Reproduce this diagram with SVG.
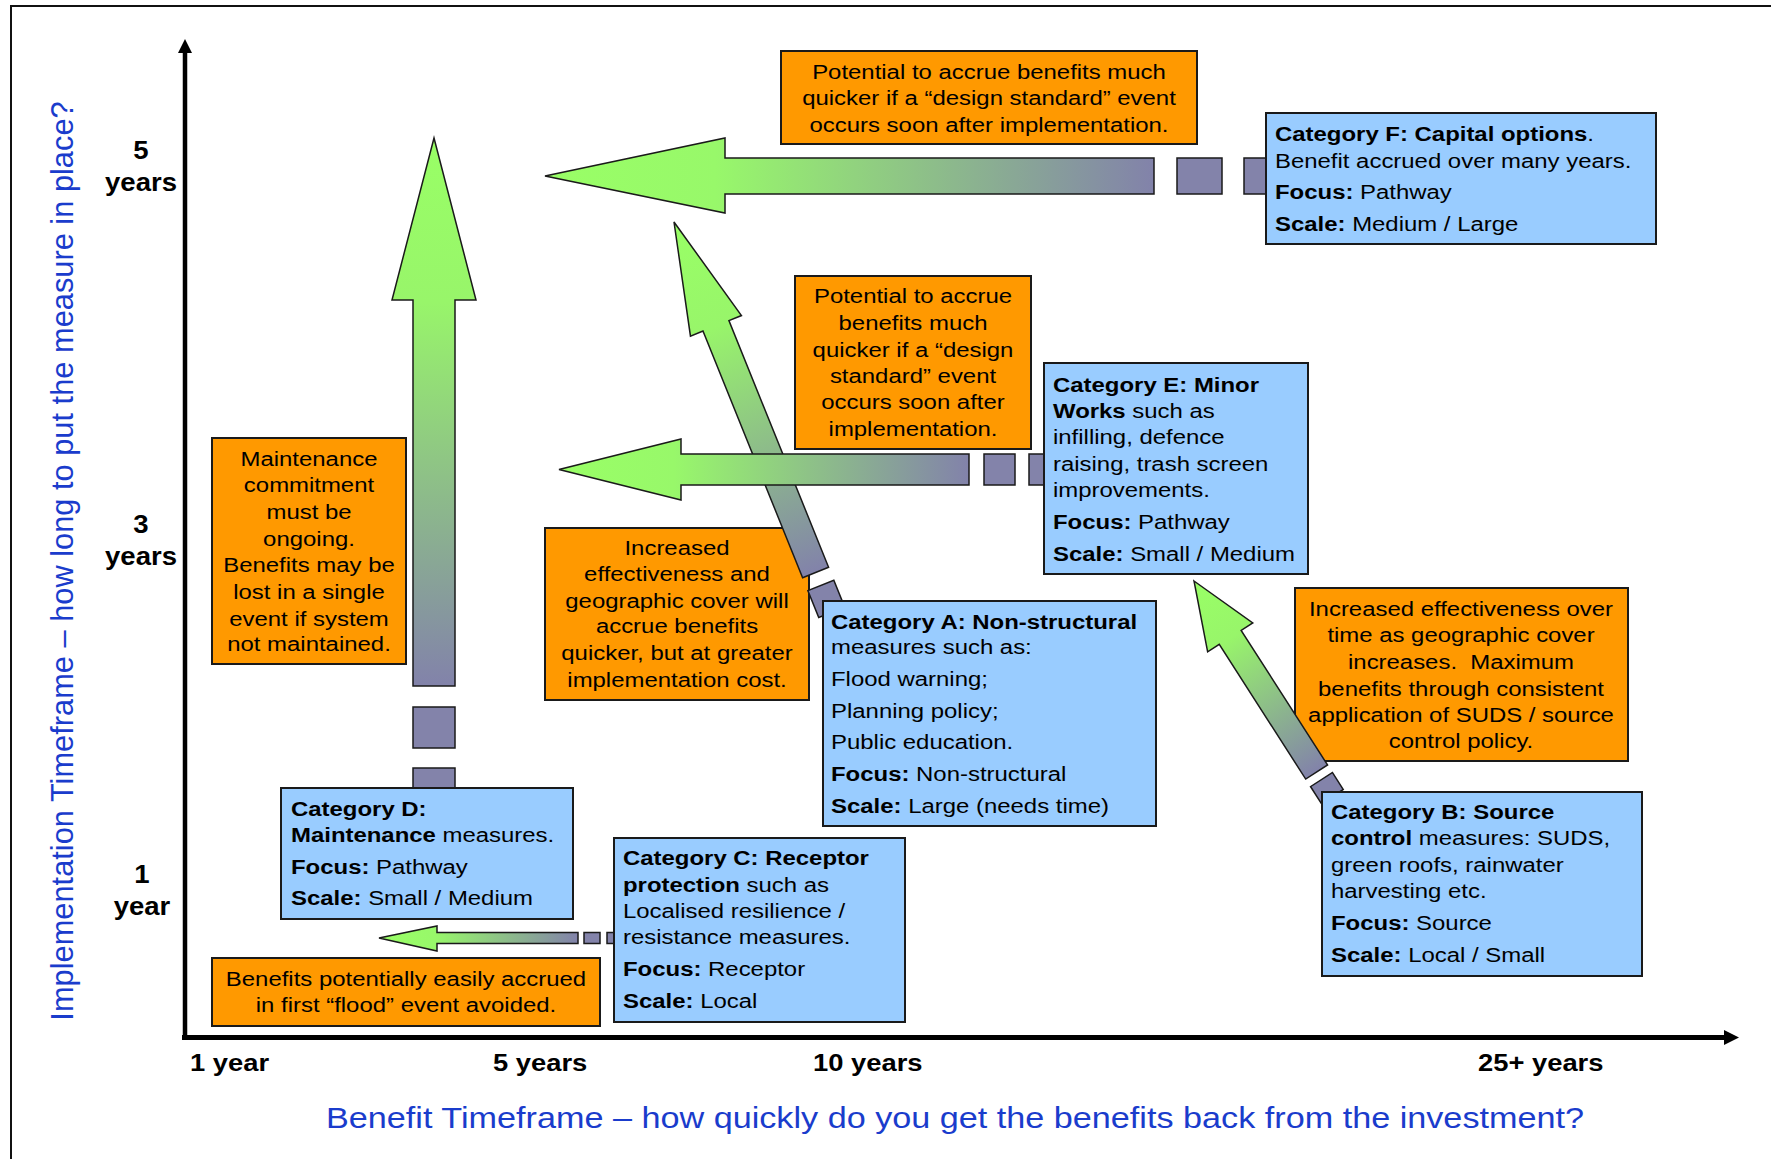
<svg xmlns="http://www.w3.org/2000/svg" width="1771" height="1159" viewBox="0 0 1771 1159">
<style>
.box{fill:#99CCFF;stroke:#1a1a1a;stroke-width:2}
.note{fill:#FF9900;stroke:#1a1a1a;stroke-width:2}
.t{font-family:"Liberation Sans",Arial,sans-serif;font-size:21px;fill:#000}
.c{text-anchor:middle}
.b{font-weight:bold}
.ax{font-family:"Liberation Sans",Arial,sans-serif;font-weight:bold;fill:#000}
.ttl{font-family:"Liberation Sans",Arial,sans-serif;fill:#1a3ccc}
.dash{fill:#8383AA;stroke:#1a1a1a;stroke-width:1.5}
.arr{stroke:#1a1a1a;stroke-width:1.5}
</style>
<defs>
<linearGradient id="gh" x1="0" y1="0" x2="1" y2="0">
<stop offset="0" stop-color="#99FF66"/>
<stop offset="0.28" stop-color="#98F86A"/>
<stop offset="1" stop-color="#8282AA"/>
</linearGradient>
<linearGradient id="gv" x1="0" y1="0" x2="0" y2="1">
<stop offset="0" stop-color="#99FF66"/>
<stop offset="0.3" stop-color="#98F56A"/>
<stop offset="1" stop-color="#8282AA"/>
</linearGradient>
</defs>
<rect width="1771" height="1159" fill="#fff"/>
<path d="M11,1159 V6 H1771" fill="none" stroke="#111" stroke-width="2"/>

<g id="axes">
<line x1="185" y1="50" x2="185" y2="1040" stroke="#000" stroke-width="4.5"/>
<polygon points="185,39 192,53 178,53" fill="#000"/>
<line x1="182" y1="1037.5" x2="1726" y2="1037.5" stroke="#000" stroke-width="5"/>
<polygon points="1739,1037.5 1724,1030 1724,1045" fill="#000"/>
<text class="ax c" font-size="25" transform="translate(141,159) scale(1.1,1)"><tspan x="0" y="0">5</tspan><tspan x="0" y="32">years</tspan></text>
<text class="ax c" font-size="25" transform="translate(141,533) scale(1.1,1)"><tspan x="0" y="0">3</tspan><tspan x="0" y="32">years</tspan></text>
<text class="ax c" font-size="25" transform="translate(142,883) scale(1.1,1)"><tspan x="0" y="0">1</tspan><tspan x="0" y="32">year</tspan></text>
<text class="ax" font-size="24" transform="translate(190,1071) scale(1.14,1)">1 year</text>
<text class="ax" font-size="24" transform="translate(493,1071) scale(1.14,1)">5 years</text>
<text class="ax" font-size="24" transform="translate(813,1071) scale(1.14,1)">10 years</text>
<text class="ax" font-size="24" transform="translate(1478,1071) scale(1.14,1)">25+ years</text>
<text class="ttl c" font-size="30.8" transform="translate(73,561) rotate(-90)">Implementation Timeframe – how long to put the measure in place?</text>
<text class="ttl c" font-size="30" transform="translate(955,1128) scale(1.14,1)">Benefit Timeframe – how quickly do you get the benefits back from the investment?</text>
</g>

<g id="note-a">
<rect class="note" x="545" y="528" width="264" height="172"/>
<text class="t c" transform="translate(677,555) scale(1.14,1)"><tspan x="0" y="0">Increased</tspan><tspan x="0" y="26">effectiveness and</tspan><tspan x="0" y="53">geographic cover will</tspan><tspan x="0" y="78">accrue benefits</tspan><tspan x="0" y="105">quicker, but at greater</tspan><tspan x="0" y="132">implementation cost.</tspan></text>
</g>
<g id="note-b">
<rect class="note" x="1295" y="588" width="333" height="173"/>
<text class="t c" transform="translate(1461,616) scale(1.14,1)"><tspan x="0" y="0">Increased effectiveness over</tspan><tspan x="0" y="26">time as geographic cover</tspan><tspan x="0" y="53">increases.&#160; Maximum</tspan><tspan x="0" y="80">benefits through consistent</tspan><tspan x="0" y="106">application of SUDS / source</tspan><tspan x="0" y="132">control policy.</tspan></text>
</g>

<g id="connectors">
<g id="arrow-d">
<polygon class="arr" fill="url(#gv)" points="434,138 476,300 455,300 455,686 413,686 413,300 392,300"/>
<rect class="dash" x="413" y="707" width="42" height="41"/>
<rect class="dash" x="413" y="768" width="42" height="24"/>
</g>
<g id="arrow-a" transform="translate(674,222) rotate(-22)">
<polygon class="arr" fill="url(#gv)" points="0,0 27.5,112 14,112 14,378 -14,378 -14,112 -27.5,112"/>
<rect class="dash" x="-14" y="392" width="28" height="29"/>
</g>
<g id="arrow-e">
<polygon class="arr" fill="url(#gh)" points="559,469.5 681,439 681,454 969,454 969,485 681,485 681,500"/>
<rect class="dash" x="984" y="454" width="31" height="31"/>
<rect class="dash" x="1029" y="454" width="20" height="31"/>
</g>
<g id="arrow-f">
<polygon class="arr" fill="url(#gh)" points="545,176 725,138 725,158 1154,158 1154,194 725,194 725,213"/>
<rect class="dash" x="1177" y="158" width="45" height="36"/>
<rect class="dash" x="1244" y="158" width="26" height="36"/>
</g>
<g id="arrow-c">
<polygon class="arr" fill="url(#gh)" points="379,938 437,926 437,932.5 578,932.5 578,943.5 437,943.5 437,951"/>
<rect class="dash" x="584" y="932.5" width="16" height="11"/>
<rect class="dash" x="607" y="932.5" width="10" height="11"/>
</g>
<g id="arrow-b" transform="translate(1194,581) rotate(-32.7)">
<polygon class="arr" fill="url(#gv)" points="0,0 26.8,67 13,67 13,227 -13,227 -13,67 -26.8,67"/>
<rect class="dash" x="-13" y="236" width="26" height="20"/>
</g>
</g>

<g id="note-f">
<rect class="note" x="781" y="51" width="416" height="93"/>
<text class="t c" transform="translate(989,79) scale(1.14,1)"><tspan x="0" y="0">Potential to accrue benefits much</tspan><tspan x="0" y="26">quicker if a “design standard” event</tspan><tspan x="0" y="53">occurs soon after implementation.</tspan></text>
</g>
<g id="note-e">
<rect class="note" x="795" y="276" width="236" height="173"/>
<text class="t c" transform="translate(913,303) scale(1.14,1)"><tspan x="0" y="0">Potential to accrue</tspan><tspan x="0" y="27">benefits much</tspan><tspan x="0" y="54">quicker if a “design</tspan><tspan x="0" y="80">standard” event</tspan><tspan x="0" y="106">occurs soon after</tspan><tspan x="0" y="133">implementation.</tspan></text>
</g>
<g id="note-d">
<rect class="note" x="212" y="438" width="194" height="226"/>
<text class="t c" transform="translate(309,466) scale(1.14,1)"><tspan x="0" y="0">Maintenance</tspan><tspan x="0" y="26">commitment</tspan><tspan x="0" y="53">must be</tspan><tspan x="0" y="80">ongoing.</tspan><tspan x="0" y="106">Benefits may be</tspan><tspan x="0" y="133">lost in a single</tspan><tspan x="0" y="160">event if system</tspan><tspan x="0" y="185">not maintained.</tspan></text>
</g>
<g id="note-c">
<rect class="note" x="212" y="958" width="388" height="68"/>
<text class="t c" transform="translate(406,986) scale(1.14,1)"><tspan x="0" y="0">Benefits potentially easily accrued</tspan><tspan x="0" y="26">in first “flood” event avoided.</tspan></text>
</g>

<g id="cat-f">
<rect class="box" x="1266" y="113" width="390" height="131"/>
<text class="t" transform="translate(1275,141) scale(1.14,1)"><tspan x="0" y="0"><tspan class="b">Category F: Capital options</tspan>.</tspan><tspan x="0" y="27">Benefit accrued over many years.</tspan><tspan x="0" y="58"><tspan class="b">Focus:</tspan> Pathway</tspan><tspan x="0" y="90"><tspan class="b">Scale:</tspan> Medium / Large</tspan></text>
</g>
<g id="cat-e">
<rect class="box" x="1044" y="363" width="264" height="211"/>
<text class="t" transform="translate(1053,392) scale(1.14,1)"><tspan x="0" y="0" class="b">Category E: Minor</tspan><tspan x="0" y="26"><tspan class="b">Works</tspan> such as</tspan><tspan x="0" y="52">infilling, defence</tspan><tspan x="0" y="79">raising, trash screen</tspan><tspan x="0" y="105">improvements.</tspan><tspan x="0" y="137"><tspan class="b">Focus:</tspan> Pathway</tspan><tspan x="0" y="169"><tspan class="b">Scale:</tspan> Small / Medium</tspan></text>
</g>
<g id="cat-a">
<rect class="box" x="823" y="601" width="333" height="225"/>
<text class="t" transform="translate(831,629) scale(1.14,1)"><tspan x="0" y="0" class="b">Category A: Non-structural</tspan><tspan x="0" y="25">measures such as:</tspan><tspan x="0" y="57">Flood warning;</tspan><tspan x="0" y="89">Planning policy;</tspan><tspan x="0" y="120">Public education.</tspan><tspan x="0" y="152"><tspan class="b">Focus:</tspan> Non-structural</tspan><tspan x="0" y="184"><tspan class="b">Scale:</tspan> Large (needs time)</tspan></text>
</g>
<g id="cat-d">
<rect class="box" x="281" y="788" width="292" height="131"/>
<text class="t" transform="translate(291,816) scale(1.14,1)"><tspan x="0" y="0" class="b">Category D:</tspan><tspan x="0" y="26"><tspan class="b">Maintenance</tspan> measures.</tspan><tspan x="0" y="58"><tspan class="b">Focus:</tspan> Pathway</tspan><tspan x="0" y="89"><tspan class="b">Scale:</tspan> Small / Medium</tspan></text>
</g>
<g id="cat-c">
<rect class="box" x="614" y="838" width="291" height="184"/>
<text class="t" transform="translate(623,865) scale(1.14,1)"><tspan x="0" y="0" class="b">Category C: Receptor</tspan><tspan x="0" y="27"><tspan class="b">protection</tspan> such as</tspan><tspan x="0" y="53">Localised resilience /</tspan><tspan x="0" y="79">resistance measures.</tspan><tspan x="0" y="111"><tspan class="b">Focus:</tspan> Receptor</tspan><tspan x="0" y="143"><tspan class="b">Scale:</tspan> Local</tspan></text>
</g>
<g id="cat-b">
<rect class="box" x="1322" y="792" width="320" height="184"/>
<text class="t" transform="translate(1331,819) scale(1.14,1)"><tspan x="0" y="0" class="b">Category B: Source</tspan><tspan x="0" y="26"><tspan class="b">control</tspan> measures: SUDS,</tspan><tspan x="0" y="53">green roofs, rainwater</tspan><tspan x="0" y="79">harvesting etc.</tspan><tspan x="0" y="111"><tspan class="b">Focus:</tspan> Source</tspan><tspan x="0" y="143"><tspan class="b">Scale:</tspan> Local / Small</tspan></text>
</g>
</svg>
